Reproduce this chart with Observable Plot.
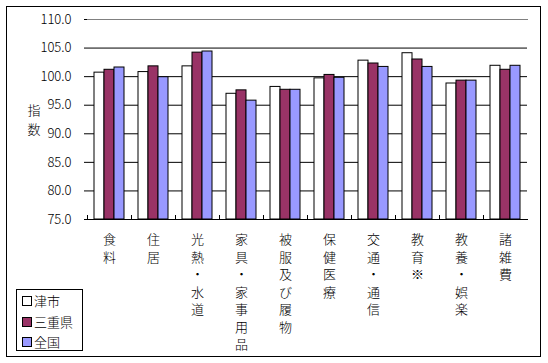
<!DOCTYPE html>
<html>
<head>
<meta charset="utf-8">
<script src="https://cdn.jsdelivr.net/npm/d3@7"></script>
<script src="https://cdn.jsdelivr.net/npm/@observablehq/plot@0.6"></script>
<style>
  html, body { margin: 0; padding: 0; background: #fff; }
  #wrap { position: relative; width: 548px; height: 363px; background: #fff; font-family: 'Noto Sans CJK JP', sans-serif; font-weight: 300; }
  #border { position: absolute; left: 6px; top: 6px; width: 535px; height: 351px; border: 1px solid #000; box-sizing: border-box; pointer-events: none; }
  #legend { position: absolute; left: 16px; top: 289px; width: 67px; height: 62px; border: 1px solid #000; box-sizing: border-box; background: #fff; font-size: 13px; }
  .item { position: absolute; left: 5px; height: 16px; line-height: 16px; white-space: nowrap; color: #000; }
  .sw { display: inline-block; width: 8px; height: 8px; border: 1px solid #000; margin-right: 2px; vertical-align: 0px; }
  #chart svg text { font-weight: 300; }
</style>
</head>
<body>
<div id="wrap"><div id="chart"></div><div id="border"></div><div id="legend"></div></div>
<script>
const categories = ["食料","住居","光熱・水道","家具・家事用品","被服及び履物","保健医療","交通・通信","教育※","教養・娯楽","諸雑費"];
const series = ["津市","三重県","全国"];
const colors = ["#FFFFFF","#993366","#9999FF"];
const tsu     = [100.7,100.8,101.8, 97.0, 98.2, 99.7,102.8,104.1, 98.8,101.9];
const mie     = [101.2,101.8,104.2, 97.6, 97.7,100.3,102.3,103.0, 99.3,101.2];
const zenkoku = [101.6, 99.9,104.4, 95.8, 97.7, 99.8,101.7,101.7, 99.3,101.9];
const yTicks = [75,80,85,90,95,100,105,110];
const yLabel = "指数";

const values = [tsu, mie, zenkoku];
const data = [];
categories.forEach((c, i) => series.forEach((s, j) => data.push({cat: c, series: s, value: values[j][i]})));

const plot = Plot.plot({
  width: 548,
  height: 363,
  marginLeft: 87,
  marginRight: 21,
  marginTop: 19,
  marginBottom: 144,
  style: {fontFamily: "'Noto Sans CJK JP', sans-serif", fontSize: "13px", color: "#000", background: "transparent"},
  fx: {domain: categories, padding: 0},
  x: {domain: series, paddingInner: 0, paddingOuter: 0.69, axis: null},
  y: {domain: [yTicks[0], yTicks[yTicks.length - 1]]},
  color: {domain: series, range: colors},
  marks: [
    Plot.gridY(yTicks.slice(1, -1), {stroke: "#000", strokeOpacity: 1}),
    Plot.frame({anchor: "top", stroke: "#808080"}),
    Plot.barY(data, {fx: "cat", x: "series", y1: yTicks[0], y2: "value", fill: "series", stroke: "#000", strokeWidth: 1}),
    Plot.frame({anchor: "bottom", stroke: "#000"}),
    Plot.frame({anchor: "left", stroke: "#000", insetTop: 196}),
    Plot.axisY({ticks: yTicks, tickFormat: d => d.toFixed(1), tickSize: 3, tickPadding: 13, line: true, label: null, stroke: "#000", fontSize: 13}),
    Plot.axisY({anchor: "right", ticks: [], tickSize: 0, line: true, label: null, stroke: "#808080"}),
    Plot.axisFx({anchor: "bottom", tickSize: 0, tickPadding: 12, label: null, fontSize: 13, lineHeight: 1.35,
      tickFormat: d => [...d].join("\n")}),
    Plot.text([yLabel], {fx: () => categories[0], frameAnchor: "left", dx: -60, dy: -1, text: d => [...d].join("\n"), fontSize: 13, lineHeight: 1.45, fill: "#000"})
  ]
});
document.getElementById("chart").appendChild(plot);

const legend = document.getElementById("legend");
series.forEach((s, j) => {
  const item = document.createElement("div");
  item.className = "item";
  item.style.top = (3 + j * 20.5) + "px";
  const sw = document.createElement("span");
  sw.className = "sw";
  sw.style.background = colors[j];
  item.appendChild(sw);
  item.appendChild(document.createTextNode(s));
  legend.appendChild(item);
});
</script>
</body>
</html>
